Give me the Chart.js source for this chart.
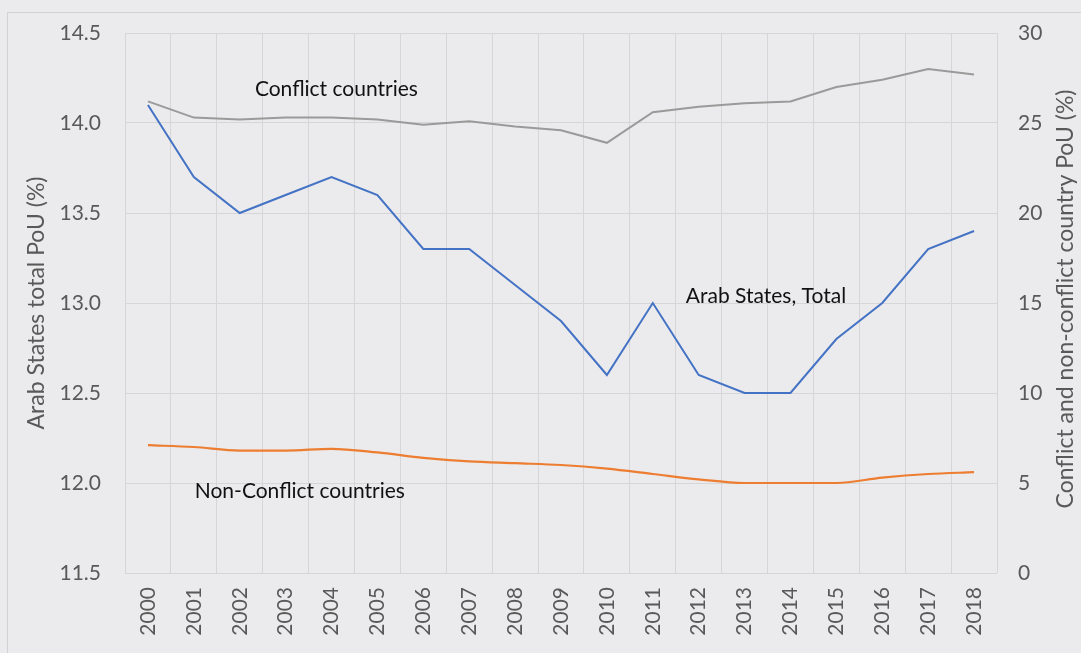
<!DOCTYPE html>
<html>
<head>
<meta charset="utf-8">
<script src="https://cdn.jsdelivr.net/npm/chart.js@4"></script>
<style>
  html, body { margin:0; padding:0; background:#ebebed; width:1081px; height:653px; overflow:hidden; }
  #frame { position:absolute; left:7px; top:12px; width:1120px; height:700px; border:1px solid #d2d2d4; box-sizing:border-box; }
  #c { position:absolute; left:0; top:0; }
</style>
</head>
<body>
<div id="frame"></div>
<canvas id="c" width="1081" height="653"></canvas>
<script>
const years = ['2000','2001','2002','2003','2004','2005','2006','2007','2008','2009','2010','2011','2012','2013','2014','2015','2016','2017','2018'];
const arabTotal = [14.1,13.7,13.5,13.6,13.7,13.6,13.3,13.3,13.1,12.9,12.6,13.0,12.6,12.5,12.5,12.8,13.0,13.3,13.4];
const conflict = [26.2,25.3,25.2,25.3,25.3,25.2,24.9,25.1,24.8,24.6,23.9,25.6,25.9,26.1,26.2,27.0,27.4,28.0,27.7];
const nonConflict = [7.1,7.0,6.8,6.8,6.9,6.7,6.4,6.2,6.1,6.0,5.8,5.5,5.2,5.0,5.0,5.0,5.3,5.5,5.6];
const leftTicks = [11.5,12.0,12.5,13.0,13.5,14.0,14.5];
const rightTicks = [0,5,10,15,20,25,30];

const labels = [
  {text:'Conflict countries', x:2.33, y:26.9, axis:'y1'},
  {text:'Arab States, Total', x:11.72, y:13.04, axis:'y'},
  {text:'Non-Conflict countries', x:1.02, y:4.55, axis:'y1'}
];

const FONT = 'Lato, "Open Sans", sans-serif';
const TXT = '#595959';

const annot = {
  id:'annot',
  afterDatasetsDraw(chart){
    const ctx = chart.ctx;
    ctx.save();
    ctx.font = '21px ' + FONT;
    ctx.fillStyle = '#111';
    ctx.textAlign = 'left';
    ctx.textBaseline = 'middle';
    labels.forEach(l => {
      const px = chart.scales.x.getPixelForValue(l.x);
      const py = chart.scales[l.axis].getPixelForValue(l.y);
      ctx.fillText(l.text, px, py);
    });
    // right axis title, reading bottom-to-top
    const a = chart.chartArea;
    ctx.font = '23px ' + FONT;
    ctx.fillStyle = TXT;
    ctx.textAlign = 'center';
    ctx.translate(1066, (a.top + a.bottom) / 2 - 4);
    ctx.rotate(-Math.PI/2);
    ctx.fillText('Conflict and non-conflict country PoU (%)', 0, 0);
    ctx.restore();
  }
};

new Chart(document.getElementById('c'), {
  type:'line',
  data:{
    labels: years,
    datasets:[
      {label:'Conflict countries', data:conflict, yAxisID:'y1', borderColor:'#9a9a9a', borderWidth:2, pointRadius:0, tension:0, fill:false},
      {label:'Arab States, Total', data:arabTotal, yAxisID:'y', borderColor:'#4472C4', borderWidth:2, pointRadius:0, tension:0, fill:false},
      {label:'Non-Conflict countries', data:nonConflict, yAxisID:'y1', borderColor:'#ED7D31', borderWidth:2.2, pointRadius:0, cubicInterpolationMode:'monotone', fill:false}
    ]
  },
  options:{
    responsive:false,
    animation:false,
    layout:{padding:{top:24, left:0, right:0, bottom:0}},
    plugins:{legend:{display:false}, tooltip:{enabled:false}},
    scales:{
      x:{
        offset:true,
        grid:{offset:true, color:'#d6d6d8', drawTicks:false},
        border:{display:false},
        ticks:{color:TXT, font:{family:FONT, size:21}, maxRotation:90, minRotation:90, padding:14, autoSkip:false},
        afterFit(s){ s.height = 80; }
      },
      y:{
        position:'left',
        min:11.5, max:14.5,
        afterBuildTicks(s){ s.ticks = leftTicks.map(v=>({value:v})); },
        grid:{color:'#d6d6d8', drawTicks:false},
        border:{display:false},
        ticks:{color:TXT, font:{family:FONT, size:21, lineHeight:18/21}, padding:24, callback:v=>v.toFixed(1)},
        title:{display:true, text:'Arab States total PoU (%)', color:TXT, font:{family:FONT, size:23}, padding:{top:23, bottom:0}},
        afterFit(s){ s.width = 125; }
      },
      y1:{
        position:'right',
        min:0, max:30,
        afterBuildTicks(s){ s.ticks = rightTicks.map(v=>({value:v})); },
        grid:{display:false, drawTicks:false},
        border:{display:false},
        ticks:{color:TXT, font:{family:FONT, size:21, lineHeight:18/21}, padding:21},
        afterFit(s){ s.width = 84; }
      }
    }
  },
  plugins:[annot]
});
</script>
</body>
</html>
